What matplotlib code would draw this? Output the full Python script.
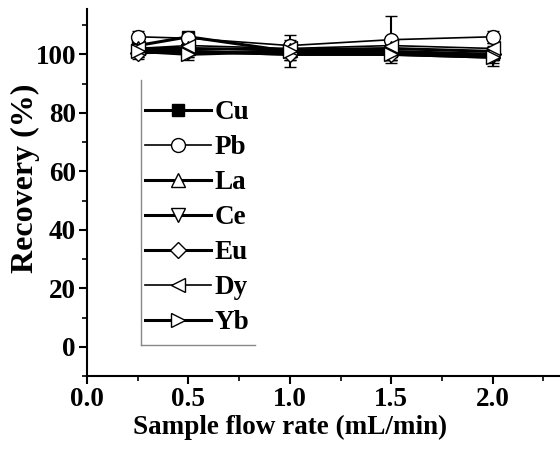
import matplotlib
matplotlib.use("Agg")
import matplotlib.pyplot as plt
from matplotlib.lines import Line2D
from matplotlib.ticker import MultipleLocator, FormatStrFormatter

plt.rcParams['font.family'] = ['Liberation Serif', 'DejaVu Serif']
plt.rcParams['font.weight'] = 'bold'

flow_rate = [0.25, 0.5, 1.0, 1.5, 2.0]
elements = ['Cu', 'Pb', 'La', 'Ce', 'Eu', 'Dy', 'Yb']
cu = [103.0, 106.0, 101.0, 101.0, 100.0]
pb = [106.0, 105.5, 103.0, 105.0, 106.0]
la = [102.0, 102.0, 101.5, 102.0, 101.0]
ce = [101.0, 101.0, 100.0, 100.0, 99.0]
eu = [100.5, 101.0, 100.0, 100.0, 100.0]
dy = [102.0, 103.0, 102.0, 103.0, 102.0]
yb = [101.0, 100.0, 101.0, 100.0, 99.0]
cu_err = [1.5, 1.5, 5.5, 2.0, 2.0]
pb_err = [2.0, 2.0, 2.0, 8.0, 2.0]
la_err = [2.0, 2.0, 2.5, 2.0, 2.0]
ce_err = [2.0, 2.0, 2.0, 2.0, 2.0]
eu_err = [2.0, 2.0, 2.0, 2.0, 2.0]
dy_err = [2.0, 2.0, 2.0, 2.0, 2.0]
yb_err = [2.0, 2.0, 2.0, 2.0, 3.0]
x_ticks = [0.0, 0.5, 1.0, 1.5, 2.0]
y_ticks = [0, 20, 40, 60, 80, 100]

series = [cu, pb, la, ce, eu, dy, yb]
errors = [cu_err, pb_err, la_err, ce_err, eu_err, dy_err, yb_err]
markers = ['s', 'o', '^', 'v', 'D', '<', '>']
mfaces = ['black', 'white', 'white', 'white', 'white', 'white', 'white']
msizes = [8, 10, 10, 10, 8, 10, 10]
lwidths = [2.2, 1.2, 2.2, 2.2, 2.2, 1.2, 2.2]

fig = plt.figure(figsize=(5.6, 4.49), dpi=100)
W, H = 560, 449
ax = fig.add_axes([87 / W, (449 - 376) / H, 507 / W, 367 / H])

for vals, err, m, fc, ms, lw, name in zip(series, errors, markers, mfaces, msizes, lwidths, elements):
    ax.errorbar(flow_rate, vals, yerr=err, color='black', marker=m, markerfacecolor=fc,
                markeredgecolor='black', markersize=ms, markeredgewidth=1.0, linewidth=lw,
                capsize=4, elinewidth=1.5, capthick=1.5, label=name)

ax.set_xlim(0, 2.5)
ax.set_ylim(-10, 115.5)
ax.set_xticks(x_ticks)
ax.xaxis.set_minor_locator(MultipleLocator(0.25))
ax.set_yticks(y_ticks)
ax.yaxis.set_minor_locator(MultipleLocator(10))
ax.xaxis.set_major_formatter(FormatStrFormatter('%.1f'))
for s in ['top', 'right']:
    ax.spines[s].set_visible(False)
for s in ['left', 'bottom']:
    ax.spines[s].set_linewidth(1.5)
ax.tick_params(which='major', direction='out', length=6, width=1.5, labelsize=19.5, pad=2)
ax.tick_params(which='minor', direction='out', length=3.5, width=1.2)
for lab in ax.get_xticklabels() + ax.get_yticklabels():
    lab.set_fontweight('bold')

ax.set_xlabel('Sample flow rate (mL/min)', fontsize=19.5, fontweight='bold')
ax.xaxis.set_label_coords((290 - 87) / 507, -(427 - 376) / 367)
ax.xaxis.label.set_va('center')
ax.set_ylabel('Recovery (%)', fontsize=23, fontweight='bold')
ax.yaxis.set_label_coords((25 - 87) / 507, (376 - 178) / 367)
ax.yaxis.label.set_va('center')

handles, labels = ax.get_legend_handles_labels()
leg = ax.legend([h[0] for h in handles], labels, loc='upper left',
                bbox_to_anchor=((141 - 87) / 507, (376 - 96) / 367), frameon=False,
                handlelength=2.45, labelspacing=0.37, handletextpad=0.12,
                borderaxespad=0, borderpad=0.15, prop={'weight': 'bold', 'size': 19.5})

fig.canvas.draw()
bb = leg.get_window_extent()
inv = fig.transFigure.inverted()
(lx, ty), = inv.transform([(bb.x0, bb.y1 + 16)])
(rx, by), = inv.transform([(bb.x1 + 2, bb.y0 - 6)])
fig.add_artist(Line2D([lx, lx], [by, ty], transform=fig.transFigure, color='#888888', lw=1.0))
fig.add_artist(Line2D([lx, rx], [by, by], transform=fig.transFigure, color='#888888', lw=1.0))

fig.savefig('out.png', dpi=100)
